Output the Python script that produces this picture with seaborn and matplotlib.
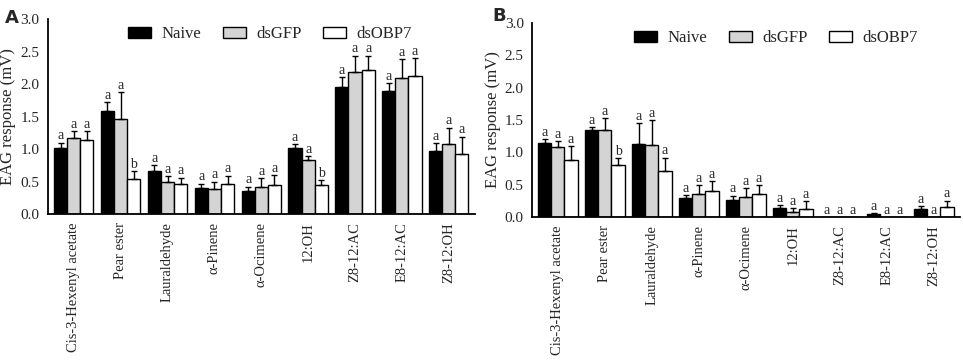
import numpy as np
import pandas as pd
import matplotlib
matplotlib.use("Agg")
import matplotlib.pyplot as plt
import seaborn as sns

compounds = ["Cis-3-Hexenyl acetate", "Pear ester", "Lauraldehyde", "α-Pinene",
             "α-Ocimene", "12:OH", "Z8-12:AC", "E8-12:AC", "Z8-12:OH"]
groups = ["Naive", "dsGFP", "dsOBP7"]
colors = ["black", "#d4d4d4", "white"]

# panel A: means, upper error bar lengths, letters
a_naive = [1.02, 1.59, 0.66, 0.40, 0.36, 1.02, 1.96, 1.90, 0.97]
a_dsgfp = [1.17, 1.46, 0.49, 0.39, 0.41, 0.83, 2.18, 2.10, 1.08]
a_dsobp7 = [1.14, 0.54, 0.47, 0.46, 0.45, 0.44, 2.22, 2.13, 0.92]
a_err_naive = [0.08, 0.13, 0.09, 0.07, 0.06, 0.06, 0.15, 0.11, 0.12]
a_err_dsgfp = [0.11, 0.42, 0.09, 0.11, 0.14, 0.06, 0.26, 0.28, 0.25]
a_err_dsobp7 = [0.14, 0.12, 0.09, 0.13, 0.15, 0.08, 0.22, 0.27, 0.27]
a_let_naive = ["a"] * 9
a_let_dsgfp = ["a"] * 9
a_let_dsobp7 = ["a", "b", "a", "a", "a", "b", "a", "a", "a"]

# panel B
b_naive = [1.15, 1.34, 1.13, 0.29, 0.27, 0.14, 0.0, 0.04, 0.13]
b_dsgfp = [1.09, 1.35, 1.12, 0.35, 0.31, 0.08, 0.0, 0.0, 0.0]
b_dsobp7 = [0.88, 0.80, 0.71, 0.40, 0.35, 0.12, 0.0, 0.0, 0.15]
b_err_naive = [0.05, 0.05, 0.32, 0.05, 0.06, 0.04, 0.0, 0.02, 0.04]
b_err_dsgfp = [0.08, 0.18, 0.38, 0.14, 0.14, 0.06, 0.0, 0.0, 0.0]
b_err_dsobp7 = [0.22, 0.11, 0.21, 0.15, 0.14, 0.12, 0.0, 0.0, 0.10]
b_let_naive = ["a"] * 9
b_let_dsgfp = ["a"] * 9
b_let_dsobp7 = ["a", "b", "a", "a", "a", "a", "a", "a", "a"]


def make_df(naive, dsgfp, dsobp7):
    rows = []
    for g, vals in zip(groups, [naive, dsgfp, dsobp7]):
        for c, v in zip(compounds, vals):
            rows.append({"compound": c, "group": g, "value": v})
    return pd.DataFrame(rows)


def draw_panel(ax, means, errs, letters, legend_x):
    df = make_df(*means)
    sns.barplot(data=df, x="compound", y="value", hue="group", hue_order=groups,
                palette=colors, edgecolor="black", linewidth=1.0, width=0.84,
                gap=0, errorbar=None, ax=ax)
    for cont, err, lets in zip(ax.containers, errs, letters):
        xs = [p.get_x() + p.get_width() / 2 for p in cont]
        hs = [p.get_height() for p in cont]
        err = np.array(err)
        mask = err > 0
        ax.errorbar(np.array(xs)[mask], np.array(hs)[mask],
                    yerr=[np.zeros(mask.sum()), err[mask]],
                    fmt="none", ecolor="black", elinewidth=1.0,
                    capsize=2, capthick=1.0, zorder=3)
        for x, h, e, t in zip(xs, hs, err, lets):
            ax.text(x, h + e + 0.005, t, ha="center", va="bottom",
                    fontsize=10)
    ax.set_ylim(0, 3.0)
    ax.set_xlim(-0.55, 8.55)
    ax.set_yticks(np.arange(0, 3.01, 0.5))
    ax.set_yticklabels([f"{v:.1f}" for v in np.arange(0, 3.01, 0.5)], fontsize=11)
    ax.set_xticks(range(len(compounds)))
    ax.set_xticklabels(compounds, rotation=90, fontsize=10.5)
    ax.set_xlabel("")
    ax.set_ylabel("EAG response (mV)", fontsize=12, labelpad=3)
    ax.tick_params(axis="both", direction="out", length=4, width=1.2,
                   color="black", pad=2)
    for s in ["top", "right"]:
        ax.spines[s].set_visible(False)
    for s in ["left", "bottom"]:
        ax.spines[s].set_linewidth(1.3)
        ax.spines[s].set_color("black")
    ax.grid(False)
    ax.legend(loc="upper center", bbox_to_anchor=(legend_x, 1.04), ncol=3,
              frameon=False, fontsize=12, handlelength=1.4, handleheight=0.6,
              columnspacing=1.3, handletextpad=0.6)


sns.set_style("white")
plt.rcParams["font.family"] = ["Liberation Serif", "DejaVu Serif"]

fig = plt.figure(figsize=(9.63, 3.61), dpi=100)
ax1 = fig.add_axes([0.0498, 0.407, 0.443, 0.540])
ax2 = fig.add_axes([0.5525, 0.399, 0.444, 0.537])

draw_panel(ax1, (a_naive, a_dsgfp, a_dsobp7),
           (a_err_naive, a_err_dsgfp, a_err_dsobp7),
           (a_let_naive, a_let_dsgfp, a_let_dsobp7), 0.52)
draw_panel(ax2, (b_naive, b_dsgfp, b_dsobp7),
           (b_err_naive, b_err_dsgfp, b_err_dsobp7),
           (b_let_naive, b_let_dsgfp, b_let_dsobp7), 0.57)

fig.text(0.005, 0.975, "A", fontsize=13, fontweight="bold",
         family="DejaVu Sans", va="top", ha="left")
fig.text(0.511, 0.98, "B", fontsize=13, fontweight="bold",
         family="DejaVu Sans", va="top", ha="left")

fig.savefig("out.png", dpi=100)
